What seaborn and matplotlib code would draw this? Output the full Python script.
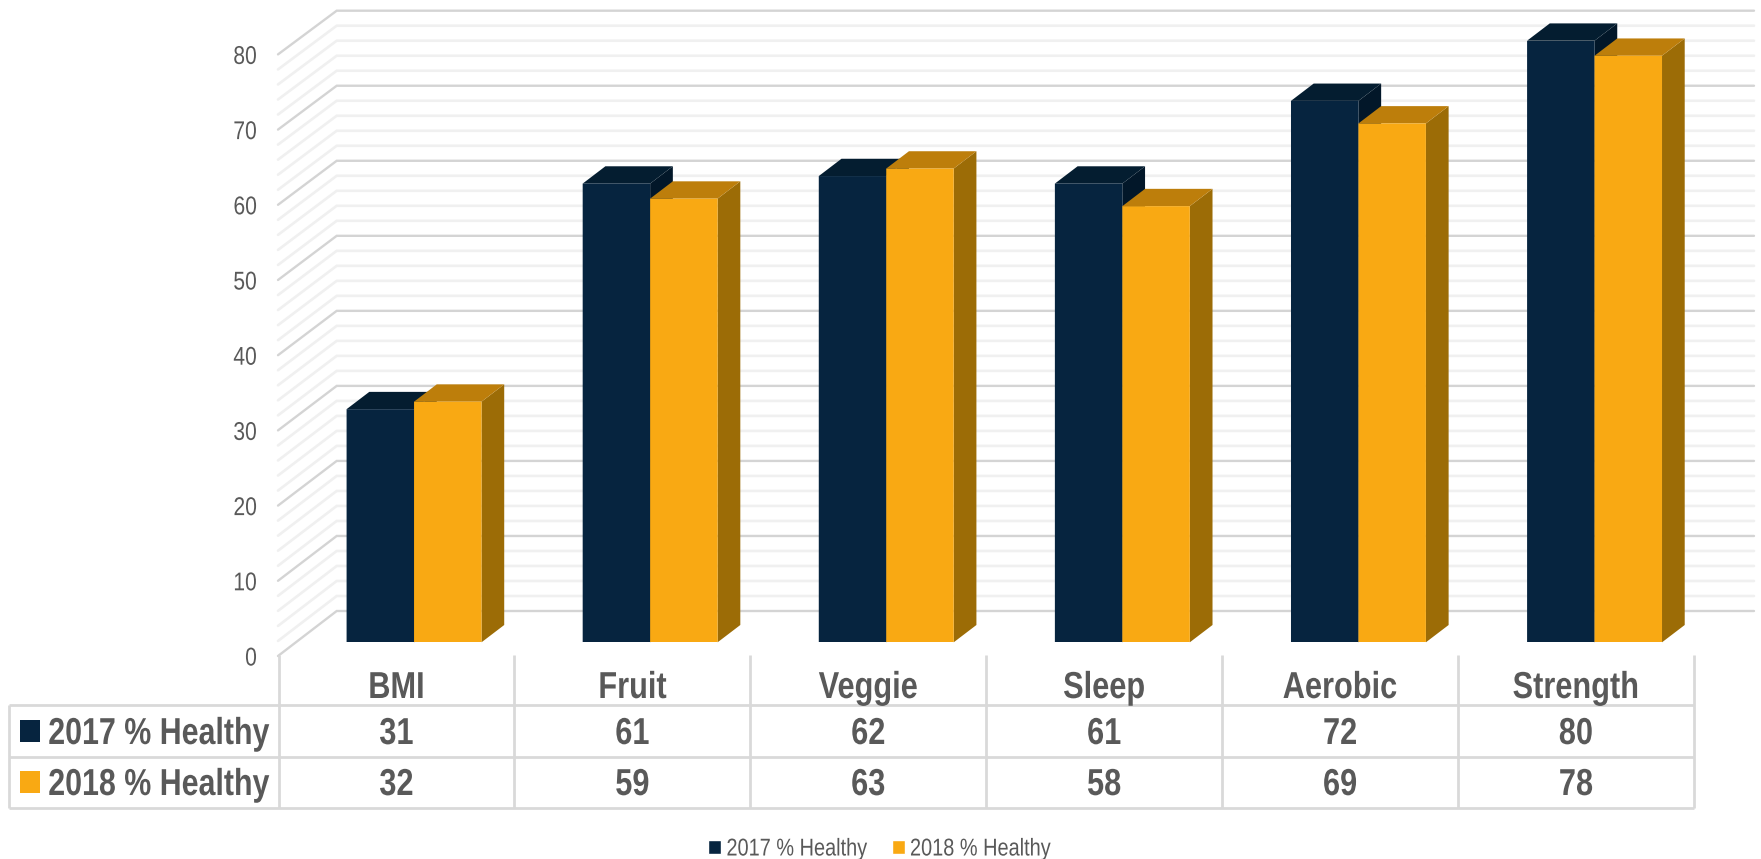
import matplotlib
matplotlib.use("Agg")
import matplotlib.pyplot as plt
import pandas as pd
import seaborn as sns
from matplotlib.patches import Polygon, Rectangle
from matplotlib.patheffects import AbstractPathEffect
from matplotlib.transforms import Affine2D, IdentityTransform

categories = ["BMI", "Fruit", "Veggie", "Sleep", "Aerobic", "Strength"]
series_names = ["2017 % Healthy", "2018 % Healthy"]
healthy_2017 = [31, 61, 62, 61, 72, 80]
healthy_2018 = [32, 59, 63, 58, 69, 78]
y_ticks = [0, 10, 20, 30, 40, 50, 60, 70, 80]

W, H = 1761, 859
NAVY = ("#06243F", "#041D30", "#021729")     # front, top, side
AMBER = ("#F9A913", "#BD7E0B", "#9C6C06")
GRID_MAJOR, GRID_MINOR, TABLE = "#D4D4D4", "#F0F0F0", "#D9D9D9"
TEXT = "#595959"
FONT = ["Liberation Sans", "DejaVu Sans"]

sns.set_theme(style="white")
plt.rcParams["font.family"] = FONT


class Narrow(AbstractPathEffect):
    """Condense glyphs horizontally about one side of the text."""

    def __init__(self, factor=0.82, anchor="center"):
        super().__init__()
        self.factor = factor
        self.anchor = anchor

    def draw_path(self, renderer, gc, tpath, affine, rgbFace=None):
        box = tpath.get_extents()
        pivot = {"left": box.x0, "center": (box.x0 + box.x1) / 2, "right": box.x1}[self.anchor]
        squeeze = Affine2D().translate(-pivot, 0).scale(self.factor, 1).translate(pivot, 0)
        renderer.draw_path(gc, tpath, squeeze + affine, rgbFace)


fig = plt.figure(figsize=(W / 100, H / 100), dpi=100, facecolor="white")


def rect_from_px(left, top, right, bottom):
    return [left / W, 1 - bottom / H, (right - left) / W, (bottom - top) / H]


# Back layer for the walls, then the data axes whose y=0 is the floor's front edge
walls = fig.add_axes([0, 0, 1, 1], facecolor="none", zorder=0)
walls.axis("off")
ax = fig.add_axes(rect_from_px(296, 40.7, 1712.6, 642.3), facecolor="none", zorder=1)

frame = pd.DataFrame({
    "category": categories * 2,
    "series": [series_names[0]] * 6 + [series_names[1]] * 6,
    "value": healthy_2017 + healthy_2018,
})
sns.barplot(data=frame, x="category", y="value", hue="series", order=categories,
            hue_order=series_names, palette=[NAVY[0], AMBER[0]], width=0.5715, gap=0,
            saturation=1, errorbar=None, ax=ax, legend=True)
ax.set_xlim(-0.5, 5.5)
ax.set_ylim(0, 80)
ax.set_xlabel("")
ax.set_ylabel("")
ax.set_xticks([])
ax.set_yticks(y_ticks)
ax.tick_params(axis="y", length=0, pad=28, labelsize=18.5, labelcolor=TEXT)
for spine in ax.spines.values():
    spine.set_visible(False)

# Tick labels sit on the front edge of the side wall, below the bar baseline
wall_front_drop = 13.7
for label in ax.get_yticklabels():
    label.set_transform(label.get_transform() + Affine2D().translate(0, -wall_front_drop))
    label.set_path_effects([Narrow(anchor="right")])

# Receding walls: gridlines every 2 units on the back wall and the side wall
wall_x_front, wall_x_back, wall_x_right = 278.0, 336.7, 1754.0
for v in range(0, 81, 2):
    _, y_disp = ax.transData.transform((0, v))
    y_back = y_disp + 31.3 - 1.3 * v / 80
    y_front = y_disp - wall_front_drop
    major = v % 10 == 0
    walls.add_line(plt.Line2D([wall_x_front, wall_x_back, wall_x_right],
                              [y_front, y_back, y_back],
                              transform=IdentityTransform(),
                              color=GRID_MAJOR if major else GRID_MINOR,
                              lw=1.7 if major else 1.9, clip_on=False,
                              solid_joinstyle="miter", zorder=2 if major else 1))

# Extrude every bar: side and top faces offset up and to the right
depth_x, depth_y = 22.7, 17.3
z = 3.0
for i in range(len(categories)):
    for container, shades in zip(ax.containers, (NAVY, AMBER)):
        bar = container[i]
        x0, x1 = bar.get_x(), bar.get_x() + bar.get_width()
        top = bar.get_height()
        (lx, by) = ax.transData.transform((x0, 0))
        (rx, ty) = ax.transData.transform((x1, top))
        side = [(rx, by), (rx + depth_x, by + depth_y), (rx + depth_x, ty + depth_y), (rx, ty)]
        roof = [(lx, ty), (rx, ty), (rx + depth_x, ty + depth_y), (lx + depth_x, ty + depth_y)]
        ax.add_patch(Polygon(side, closed=True, transform=IdentityTransform(),
                             facecolor=shades[2], edgecolor="none", zorder=z, clip_on=False))
        ax.add_patch(Polygon(roof, closed=True, transform=IdentityTransform(),
                             facecolor=shades[1], edgecolor="none", zorder=z + 0.1, clip_on=False))
        bar.set_zorder(z + 0.2)
        bar.set_edgecolor("none")
        bar.set_snap(False)
        z += 0.5

# Bottom legend
handles, labels = ax.get_legend_handles_labels()
legend = ax.legend(handles, labels, loc="center left", bbox_to_anchor=(708 / W, 1 - 849.5 / H),
                   bbox_transform=fig.transFigure, ncol=2, frameon=False, fontsize=17.5,
                   labelcolor=TEXT, handlelength=0.55, handleheight=0.55, handletextpad=0.2,
                   columnspacing=-0.25, borderpad=0, borderaxespad=0)
for text in legend.get_texts():
    text.set_path_effects([Narrow(anchor="left")])

# Data table under the plot, laid out in pixel coordinates
table = fig.add_axes([0, 0, 1, 1], facecolor="none", zorder=2)
table.set_xlim(0, W)
table.set_ylim(H, 0)
table.axis("off")

col_edges = [278.5 + 235.9 * k for k in range(7)]
row_lines = [705.0, 756.5, 808.0]
table_kw = dict(color=TABLE, lw=2.0, solid_capstyle="butt")
for edge in col_edges:
    table.plot([edge, edge], [655, 808], **table_kw)
table.plot([9, 9], [705, 808], **table_kw)
for row_y in row_lines:
    table.plot([9, col_edges[-1]], [row_y, row_y], **table_kw)

cell_font = dict(fontsize=27, fontweight="bold", color=TEXT, ha="center", va="center_baseline")
squeezed = [Narrow(anchor="center")]
for i, name in enumerate(categories):
    centre = (col_edges[i] + col_edges[i + 1]) / 2
    table.text(centre, 684, name, path_effects=squeezed, **cell_font)
    table.text(centre, 730, str(healthy_2017[i]), path_effects=squeezed, **cell_font)
    table.text(centre, 781, str(healthy_2018[i]), path_effects=squeezed, **cell_font)

for row_y, name, shades in zip((731, 782), series_names, (NAVY, AMBER)):
    table.add_patch(Rectangle((20, row_y - 11), 20, 22, facecolor=shades[0], edgecolor="none"))
    table.text(48, row_y - 1, name, fontsize=27, fontweight="bold", color=TEXT, ha="left",
               va="center_baseline", path_effects=[Narrow(factor=0.81, anchor="left")])

fig.savefig("out.png", dpi=100, facecolor="white")
